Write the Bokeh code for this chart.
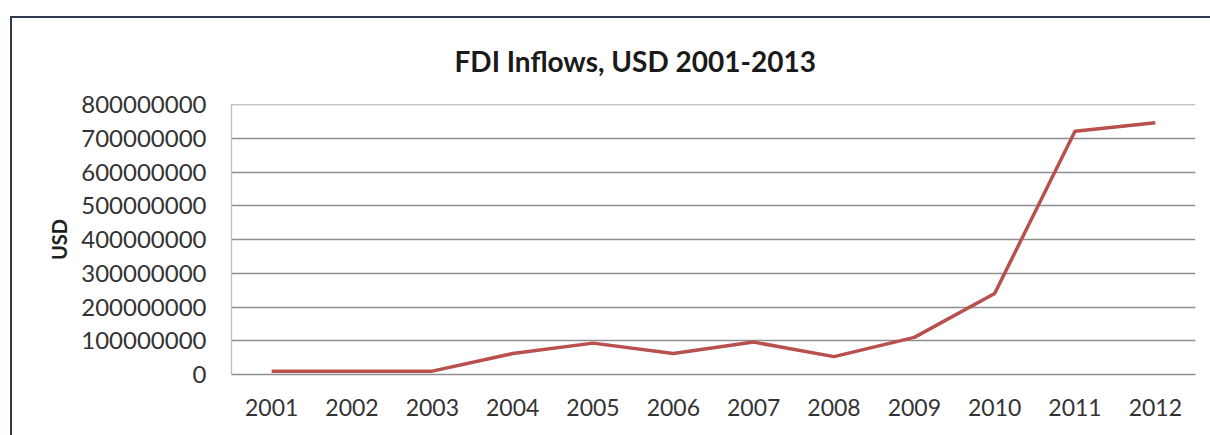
from bokeh.plotting import figure
from bokeh.models import (FactorRange, Range1d, FixedTicker, BasicTickFormatter,
                          Span, InlineStyleSheet)
from bokeh.embed import file_html
from bokeh.resources import INLINE

years = ["2001", "2002", "2003", "2004", "2005", "2006",
         "2007", "2008", "2009", "2010", "2011", "2012"]
fdi_usd = [10e6, 10e6, 10e6, 62e6, 93e6, 62e6,
           96e6, 53e6, 110e6, 240e6, 721e6, 746e6]
y_ticks = [0, 100000000, 200000000, 300000000, 400000000,
           500000000, 600000000, 700000000, 800000000]

FONT = "Lato"

border_css = InlineStyleSheet(css="""
:host { position: relative; }
:host::after {
  content: "";
  position: absolute;
  left: 10px; top: 16px; right: -10px; bottom: -10px;
  border-left: 2px solid #2F3B4C;
  border-top: 2px solid #2F3B4C;
  pointer-events: none;
}
""")

p = figure(width=1210, height=435, output_backend="svg", toolbar_location=None,
           x_range=FactorRange(*years, range_padding=0),
           y_range=Range1d(0, 800000000),
           min_border_left=231, min_border_right=15,
           min_border_top=104, min_border_bottom=61,
           stylesheets=[border_css])

p.line(years, fdi_usd, line_color="#B8504E", line_width=3.5)

p.outline_line_color = None
p.background_fill_color = "white"
p.border_fill_color = "white"

# grid
p.xgrid.grid_line_color = None
p.ygrid.grid_line_color = "#8E8E8E"
p.ygrid.grid_line_width = 1.3
p.add_layout(Span(location=y_ticks[-1], dimension="width",
                  line_color="#8E8E8E", line_width=1.3))

# y axis
p.yaxis.ticker = FixedTicker(ticks=y_ticks)
p.yaxis.formatter = BasicTickFormatter(use_scientific=False)
p.yaxis.axis_line_color = "#BDBDBD"
p.yaxis.axis_line_width = 1.3
p.yaxis.major_tick_line_color = None
p.yaxis.minor_tick_line_color = None
p.yaxis.major_label_standoff = 19
p.yaxis.major_label_text_font = FONT
p.yaxis.major_label_text_font_size = "24px"
p.yaxis.major_label_text_color = "#333333"
p.yaxis.axis_label = "USD"
p.yaxis.axis_label_text_font = FONT
p.yaxis.axis_label_text_font_style = "bold"
p.yaxis.axis_label_text_font_size = "20px"
p.yaxis.axis_label_text_color = "#1E1E1E"
p.yaxis.axis_label_standoff = 7

# x axis
p.xaxis.axis_line_color = "#8E8E8E"
p.xaxis.axis_line_width = 1.3
p.xaxis.major_tick_line_color = None
p.xaxis.minor_tick_line_color = None
p.xaxis.major_label_standoff = 18
p.xaxis.major_label_text_font = FONT
p.xaxis.major_label_text_font_size = "23px"
p.xaxis.major_label_text_color = "#333333"

# title
p.title.text = "FDI Inflows, USD 2001-2013"
p.title.align = "left"
p.title.offset = 223
p.title.text_font = FONT
p.title.text_font_style = "bold"
p.title.text_font_size = "28px"
p.title.text_color = "#1A1A1A"
p.title.standoff = 53

open("out.html", "w").write(file_html(p, INLINE))
